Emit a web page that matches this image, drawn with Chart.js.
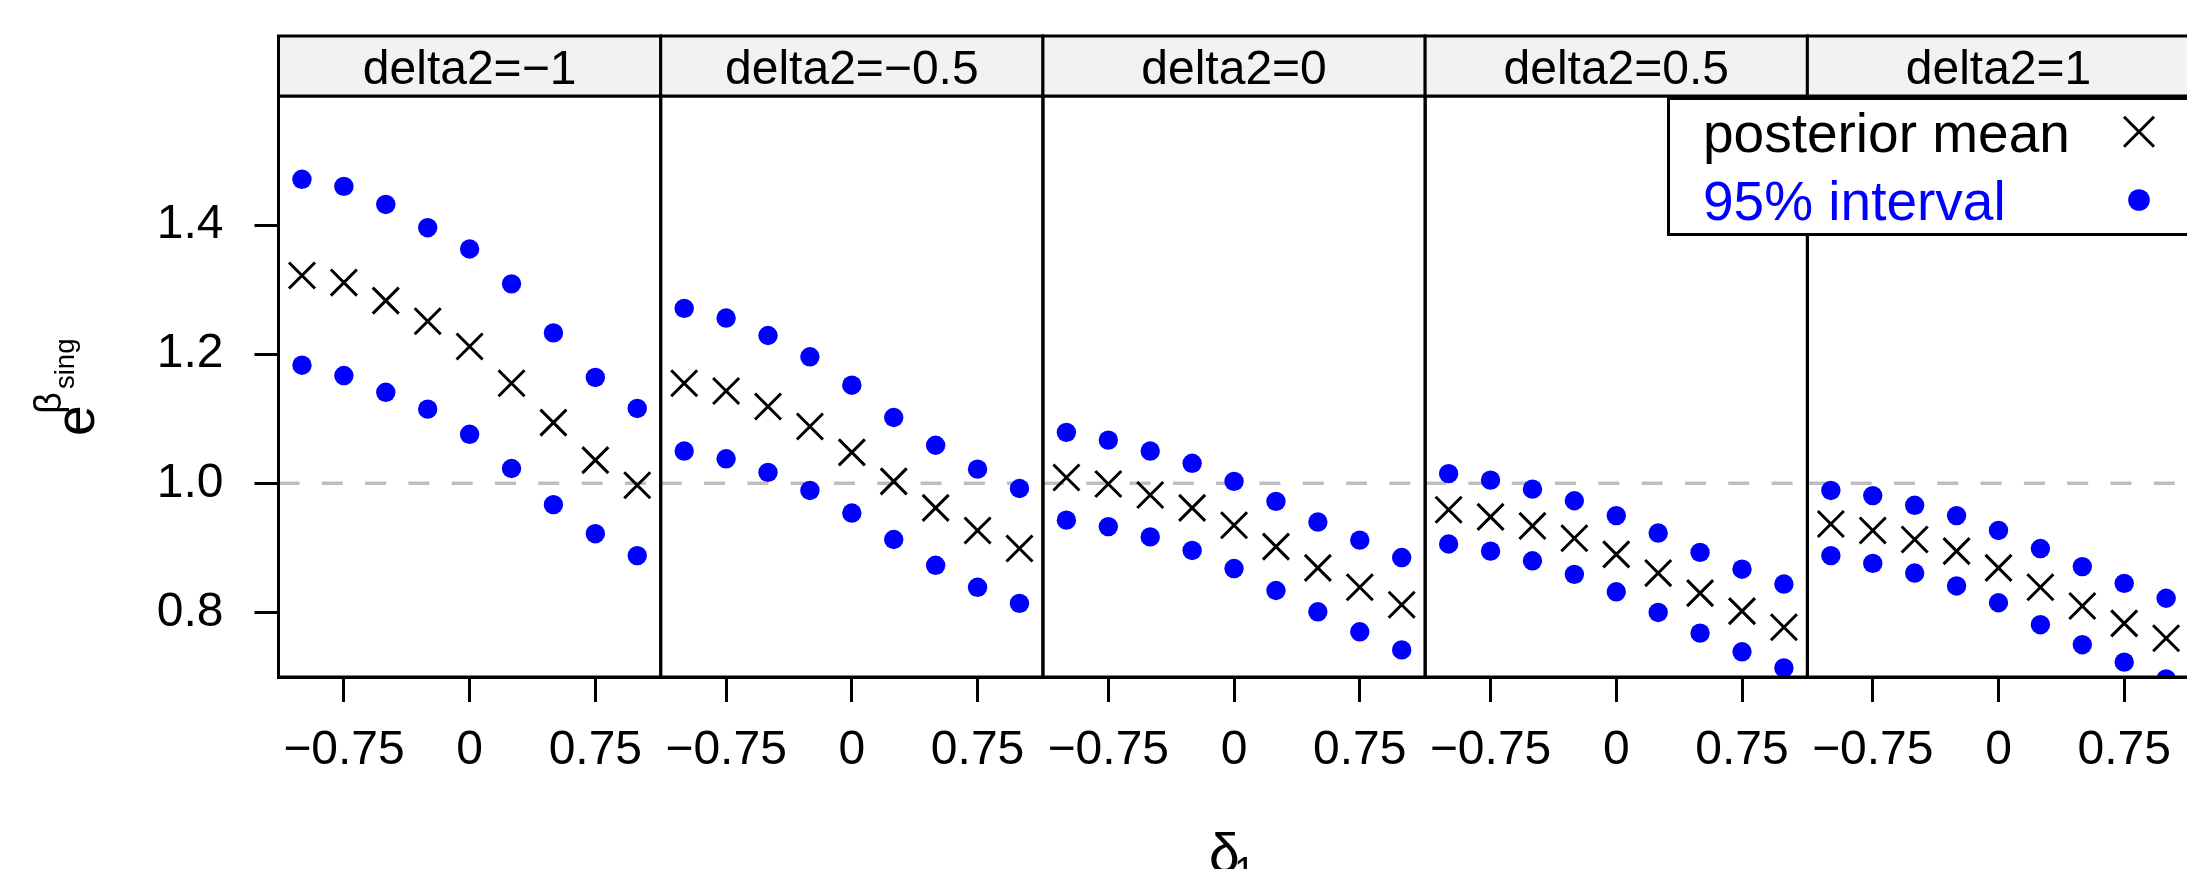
<!DOCTYPE html>
<html>
<head>
<meta charset="utf-8">
<script src="https://cdn.jsdelivr.net/npm/chart.js@4/dist/chart.umd.min.js"></script>
<style>
  html, body { margin: 0; padding: 0; background: #ffffff; overflow: hidden; }
  #wrap { position: relative; width: 2211px; height: 869px; }
  canvas { display: block; }
</style>
</head>
<body>
<div id="wrap"><canvas id="c" width="2211" height="869"></canvas></div>
<script>
// ---------------- data ----------------
const delta1 = [-1, -0.75, -0.5, -0.25, 0, 0.25, 0.5, 0.75, 1];
const panelLabels = ["delta2=\u22121", "delta2=\u22120.5", "delta2=0", "delta2=0.5", "delta2=1"];

const meanD2m1  = [1.322, 1.311, 1.283, 1.251, 1.212, 1.155, 1.094, 1.036, 0.997];
const upperD2m1 = [1.471, 1.460, 1.432, 1.396, 1.363, 1.309, 1.233, 1.164, 1.116];
const lowerD2m1 = [1.183, 1.167, 1.141, 1.115, 1.076, 1.023, 0.967, 0.922, 0.888];

const meanD2m05  = [1.155, 1.143, 1.119, 1.088, 1.048, 1.003, 0.962, 0.927, 0.899];
const upperD2m05 = [1.271, 1.256, 1.229, 1.196, 1.152, 1.102, 1.059, 1.022, 0.992];
const lowerD2m05 = [1.050, 1.038, 1.017, 0.989, 0.954, 0.913, 0.873, 0.839, 0.814];

const meanD20  = [1.009, 0.999, 0.982, 0.962, 0.935, 0.902, 0.869, 0.839, 0.812];
const upperD20 = [1.079, 1.067, 1.050, 1.031, 1.003, 0.972, 0.940, 0.912, 0.885];
const lowerD20 = [0.943, 0.933, 0.917, 0.896, 0.868, 0.834, 0.801, 0.770, 0.742];

const meanD205  = [0.959, 0.948, 0.934, 0.915, 0.890, 0.861, 0.830, 0.802, 0.777];
const upperD205 = [1.015, 1.005, 0.991, 0.973, 0.950, 0.923, 0.893, 0.867, 0.844];
const lowerD205 = [0.906, 0.895, 0.880, 0.859, 0.832, 0.800, 0.768, 0.739, 0.714];

const meanD21  = [0.937, 0.927, 0.913, 0.895, 0.869, 0.839, 0.810, 0.783, 0.760];
const upperD21 = [0.989, 0.981, 0.966, 0.950, 0.927, 0.899, 0.871, 0.845, 0.822];
const lowerD21 = [0.888, 0.876, 0.861, 0.841, 0.815, 0.781, 0.750, 0.723, 0.697];

const yTicks = [0.8, 1.0, 1.2, 1.4];
const yTickLabels = ["0.8", "1.0", "1.2", "1.4"];
const xTicks = [-0.75, 0, 0.75];
const xTickLabels = ["\u22120.75", "0", "0.75"];
const refLine = 1.0;
const legendLabels = ["posterior mean", "95% interval"];

// ---------------- build ----------------
const meanSeries  = [meanD2m1, meanD2m05, meanD20, meanD205, meanD21];
const upperSeries = [upperD2m1, upperD2m05, upperD20, upperD205, upperD21];
const lowerSeries = [lowerD2m1, lowerD2m05, lowerD20, lowerD205, lowerD21];

const FONT = "'Liberation Sans', Arial, Helvetica, sans-serif";
const BLUE = '#0000ff';

const toPts = arr => delta1.map((x, i) => ({ x: x, y: arr[i] }));

const datasets = [];
panelLabels.forEach((lab, p) => {
  datasets.push({
    label: 'upper ' + lab, data: toPts(upperSeries[p]), xAxisID: 'x' + p, yAxisID: 'y',
    pointStyle: 'circle', pointRadius: 9.7, backgroundColor: BLUE, borderColor: BLUE,
    borderWidth: 0, showLine: false, clip: 0
  });
  datasets.push({
    label: 'lower ' + lab, data: toPts(lowerSeries[p]), xAxisID: 'x' + p, yAxisID: 'y',
    pointStyle: 'circle', pointRadius: 9.7, backgroundColor: BLUE, borderColor: BLUE,
    borderWidth: 0, showLine: false, clip: 0
  });
  datasets.push({
    label: 'mean ' + lab, data: toPts(meanSeries[p]), xAxisID: 'x' + p, yAxisID: 'y',
    pointStyle: 'crossRot', pointRadius: 18.4, backgroundColor: '#000', borderColor: '#000',
    borderWidth: 3, showLine: false, clip: 0
  });
});

const scales = {
  y: {
    type: 'linear', position: 'left', min: 0.7, max: 1.6,
    afterBuildTicks: s => { s.ticks = yTicks.map(v => ({ value: v })); },
    afterFit: s => { s.width = 278.5; s.paddingTop = 0; s.paddingBottom = 0; },
    ticks: {
      font: { size: 48, family: FONT }, color: '#000', padding: 31,
      callback: (v, i) => yTickLabels[i]
    },
    grid: { drawOnChartArea: false, drawTicks: true, tickLength: 24, color: '#000', lineWidth: 3 },
    border: { display: true, color: '#000', width: 3 }
  }
};
panelLabels.forEach((lab, p) => {
  scales['x' + p] = {
    type: 'linear', position: 'bottom', stack: 'panels', stackWeight: 1,
    min: -1.14, max: 1.14,
    afterBuildTicks: s => { s.ticks = xTicks.map(v => ({ value: v })); },
    afterFit: s => { s.height = 192; s.paddingLeft = 0; s.paddingRight = 0; },
    ticks: {
      font: { size: 48, family: FONT, lineHeight: 1.2 }, color: '#000', padding: 20,
      maxRotation: 0, minRotation: 0, autoSkip: false,
      callback: (v, i) => xTickLabels[i]
    },
    grid: { drawOnChartArea: false, drawTicks: true, tickLength: 25, color: '#000', lineWidth: 3 },
    border: { display: true, color: '#000', width: 3 }
  };
});

const latticePlugin = {
  id: 'lattice',
  beforeDatasetsDraw(chart) {
    const ctx = chart.ctx, y = chart.scales.y, yp = y.getPixelForValue(refLine);
    ctx.save();
    ctx.strokeStyle = '#bebebe';
    ctx.lineWidth = 3.5;
    ctx.setLineDash([21, 22.3]);
    panelLabels.forEach((lab, p) => {
      const s = chart.scales['x' + p];
      ctx.beginPath();
      ctx.moveTo(s.left, yp);
      ctx.lineTo(s.right, yp);
      ctx.stroke();
    });
    ctx.restore();
  },
  afterDatasetsDraw(chart) {
    const ctx = chart.ctx, a = chart.chartArea;
    ctx.save();
    ctx.lineWidth = 3;
    ctx.strokeStyle = '#000';
    const stripTop = 36;
    panelLabels.forEach((lab, p) => {
      const s = chart.scales['x' + p];
      ctx.strokeRect(s.left, a.top, s.right - s.left, a.bottom - a.top);
      ctx.fillStyle = '#f2f2f2';
      ctx.fillRect(s.left, stripTop, s.right - s.left, a.top - stripTop);
      ctx.strokeRect(s.left, stripTop, s.right - s.left, a.top - stripTop);
      ctx.fillStyle = '#000';
      ctx.font = '48px ' + FONT;
      ctx.textAlign = 'center';
      ctx.textBaseline = 'alphabetic';
      ctx.fillText(lab, (s.left + s.right) / 2, 84);
    });
    ctx.restore();
  },
  afterDraw(chart) {
    const ctx = chart.ctx;
    ctx.save();
    // legend
    const lx = 1668.5, ly = 98.5, lw = 560, lh = 136;
    ctx.fillStyle = '#fff';
    ctx.fillRect(lx, ly, lw, lh);
    ctx.lineWidth = 3;
    ctx.strokeStyle = '#000';
    ctx.strokeRect(lx, ly, lw, lh);
    ctx.font = '55px ' + FONT;
    ctx.textAlign = 'left';
    ctx.textBaseline = 'alphabetic';
    ctx.fillStyle = '#000';
    ctx.fillText(legendLabels[0], 1703, 151.5);
    ctx.fillStyle = BLUE;
    ctx.fillText(legendLabels[1], 1703, 220);
    // legend symbols
    ctx.strokeStyle = '#000';
    ctx.lineWidth = 3;
    const cx = 2139, cy = 131.7, h = 15;
    ctx.beginPath();
    ctx.moveTo(cx - h, cy - h); ctx.lineTo(cx + h, cy + h);
    ctx.moveTo(cx + h, cy - h); ctx.lineTo(cx - h, cy + h);
    ctx.stroke();
    ctx.fillStyle = BLUE;
    ctx.beginPath();
    ctx.arc(2139, 200, 10.8, 0, Math.PI * 2);
    ctx.fill();

    // y axis title: e^{beta_sing}, rotated
    ctx.fillStyle = '#000';
    ctx.save();
    ctx.translate(94, 436);
    ctx.rotate(-Math.PI / 2);
    ctx.font = '55px ' + FONT;
    ctx.fillText('e', 0, 0);
    ctx.font = '38px ' + FONT;
    ctx.fillText('\u03b2', 22, -33);
    ctx.font = '27.5px ' + FONT;
    ctx.fillText('sing', 47, -20);
    ctx.restore();

    // x axis title: delta_1
    ctx.font = '55px ' + FONT;
    ctx.fillText('\u03b4', 1209, 872);
    ctx.font = '38px ' + FONT;
    ctx.fillText('1', 1234, 884);
    ctx.restore();
  }
};

new Chart(document.getElementById('c'), {
  type: 'scatter',
  data: { datasets: datasets },
  options: {
    responsive: false,
    animation: false,
    events: [],
    layout: { padding: { left: 0, top: 96, right: 10, bottom: 0 } },
    plugins: { legend: { display: false }, tooltip: { enabled: false }, title: { display: false } },
    scales: scales
  },
  plugins: [latticePlugin]
});
</script>
</body>
</html>
